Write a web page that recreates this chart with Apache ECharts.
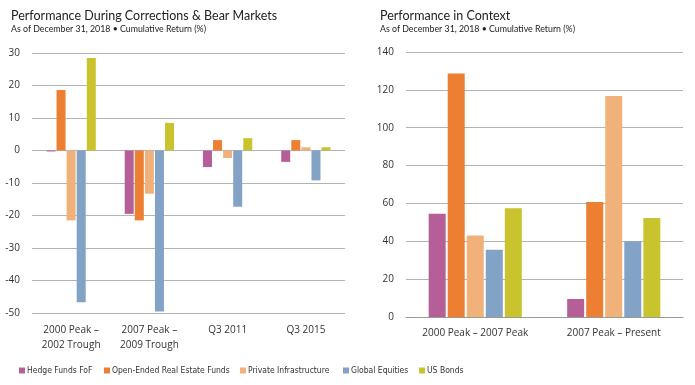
<!DOCTYPE html>
<html><head><meta charset="utf-8">
<script src="https://cdn.jsdelivr.net/npm/echarts@6/dist/echarts.min.js"></script>
<style>html,body{margin:0;padding:0;background:#fff}#c{width:695px;height:385px}</style>
</head><body><div id="c"></div>
<script>
const seriesNames = ['Hedge Funds FoF','Open-Ended Real Estate Funds','Private Infrastructure','Global Equities','US Bonds'];
const colors = ['#b55e98','#ec7f32','#f0b27a','#82a3c6','#c9c42e'];
const leftCategories = ['2000 Peak –\n2002 Trough','2007 Peak –\n2009 Trough','Q3 2011','Q3 2015'];
const hedgeLeft  = [-0.3, -19.5, -5.1, -3.5];
const oereLeft   = [18.6, -21.5, 3.2, 3.2];
const infraLeft  = [-21.5, -13.3, -2.3, 1.0];
const equityLeft = [-46.7, -49.5, -17.3, -9.2];
const bondsLeft  = [28.5, 8.5, 3.8, 1.0];
const rightCategories = ['2000 Peak – 2007 Peak','2007 Peak – Present'];
const hedgeRight  = [54.5, 9.5];
const oereRight   = [128.7, 60.7];
const infraRight  = [43.0, 116.7];
const equityRight = [35.5, 40.0];
const bondsRight  = [57.5, 52.3];

const leftData = [hedgeLeft, oereLeft, infraLeft, equityLeft, bondsLeft];
const rightData = [hedgeRight, oereRight, infraRight, equityRight, bondsRight];
const font = 'Lato, "Liberation Sans", sans-serif';
const axisFont = '"Open Sans", sans-serif';
const legendLefts = [19, 104, 240, 343, 419];

const chart = echarts.init(document.getElementById('c'), null, {renderer:'canvas'});
const series = [];
seriesNames.forEach((n,i)=>{
  series.push({type:'bar', name:n, xAxisIndex:0, yAxisIndex:0, data:leftData[i], barWidth:9, barGap:'12%', itemStyle:{color:colors[i]}, animation:false});
});
seriesNames.forEach((n,i)=>{
  series.push({type:'bar', name:n, xAxisIndex:1, yAxisIndex:1, data:rightData[i], barWidth:17, barGap:'12%', itemStyle:{color:colors[i]}, animation:false});
});
const legends = seriesNames.map((n,i)=>({data:[n], left:legendLefts[i], top:366, padding:0, itemWidth:6, itemHeight:6, icon:'rect',
    textStyle:{fontFamily:'"Liberation Sans Narrow", "DejaVu Sans Condensed", sans-serif', fontSize:8.5, color:'#333', padding:[0,0,0,-3]}}));
chart.setOption({
  animation:false,
  title:[
    {text:'Performance During Corrections & Bear Markets', left:6, top:4, textStyle:{fontFamily:font, fontSize:12.5, fontWeight:'normal', color:'#222'},
     subtext:'As of December 31, 2018 • Cumulative Return (%)', subtextStyle:{fontFamily:font, fontSize:8.8, color:'#222'}, itemGap:3},
    {text:'Performance in Context', left:375, top:4, textStyle:{fontFamily:font, fontSize:12.5, fontWeight:'normal', color:'#222'},
     subtext:'As of December 31, 2018 • Cumulative Return (%)', subtextStyle:{fontFamily:font, fontSize:8.8, color:'#222'}, itemGap:3}
  ],
  legend:legends,
  grid:[
    {left:32, right:350, top:53, height:260},
    {left:406, right:12, top:52, height:265}
  ],
  xAxis:[
    {type:'category', gridIndex:0, data:leftCategories, axisLine:{show:false}, axisTick:{show:false},
     axisLabel:{fontFamily:axisFont, fontSize:10, color:'#333', lineHeight:15, margin:10, interval:0}},
    {type:'category', gridIndex:1, data:rightCategories, axisLine:{show:true, lineStyle:{color:'#999'}}, axisTick:{show:false},
     axisLabel:{fontFamily:axisFont, fontSize:10, color:'#333', margin:11, interval:0}}
  ],
  yAxis:[
    {type:'value', gridIndex:0, min:-50, max:30, interval:10, axisLine:{show:false}, axisTick:{show:false},
     splitLine:{lineStyle:{color:'#b3b3b3'}}, axisLabel:{fontFamily:axisFont, fontSize:10, color:'#333', margin:12}},
    {type:'value', gridIndex:1, min:0, max:140, interval:20, axisLine:{show:false}, axisTick:{show:false},
     splitLine:{lineStyle:{color:'#b3b3b3'}}, axisLabel:{fontFamily:axisFont, fontSize:10, color:'#333', margin:12}}
  ],
  series:series
});
</script></body></html>
